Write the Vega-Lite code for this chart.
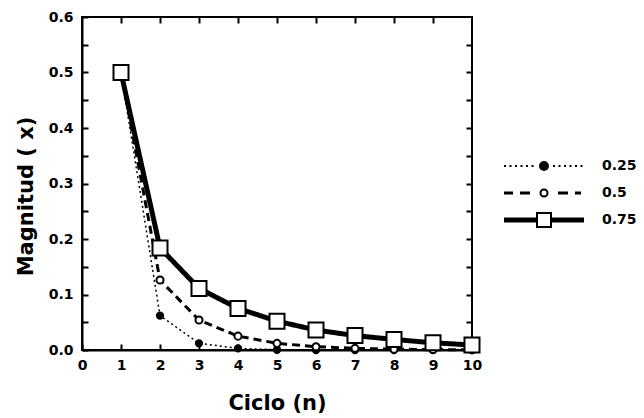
{
  "$schema": "https://vega.github.io/schema/vega-lite/v6.json",
  "autosize": "none",
  "width": 390,
  "height": 333,
  "padding": {"left": 82, "top": 17, "right": 172, "bottom": 68},
  "background": "white",
  "config": {
    "font": "DejaVu Sans",
    "view": {"stroke": "black", "strokeWidth": 2},
    "axis": {
      "grid": false,
      "labelFlush": false,
      "domainColor": "black",
      "domainWidth": 2,
      "tickColor": "black",
      "tickWidth": 2,
      "labelFont": "DejaVu Sans",
      "labelFontWeight": "bold",
      "labelFontSize": 14,
      "labelColor": "black",
      "titleFont": "DejaVu Sans",
      "titleFontWeight": "bold",
      "titleFontSize": 21,
      "titleColor": "black"
    }
  },
  "data": {
    "values": [
      {"n": 1, "x": 0.5, "s": "0.25"},
      {"n": 2, "x": 0.062, "s": "0.25"},
      {"n": 3, "x": 0.012, "s": "0.25"},
      {"n": 4, "x": 0.003, "s": "0.25"},
      {"n": 5, "x": 0.0005, "s": "0.25"},
      {"n": 6, "x": 0.0, "s": "0.25"},
      {"n": 7, "x": 0.0, "s": "0.25"},
      {"n": 8, "x": 0.0, "s": "0.25"},
      {"n": 9, "x": 0.0, "s": "0.25"},
      {"n": 10, "x": 0.0, "s": "0.25"},
      {"n": 1, "x": 0.5, "s": "0.5"},
      {"n": 2, "x": 0.126, "s": "0.5"},
      {"n": 3, "x": 0.054, "s": "0.5"},
      {"n": 4, "x": 0.025, "s": "0.5"},
      {"n": 5, "x": 0.012, "s": "0.5"},
      {"n": 6, "x": 0.006, "s": "0.5"},
      {"n": 7, "x": 0.003, "s": "0.5"},
      {"n": 8, "x": 0.0015, "s": "0.5"},
      {"n": 9, "x": 0.0008, "s": "0.5"},
      {"n": 10, "x": 0.0004, "s": "0.5"},
      {"n": 1, "x": 0.5, "s": "0.75"},
      {"n": 2, "x": 0.184, "s": "0.75"},
      {"n": 3, "x": 0.111, "s": "0.75"},
      {"n": 4, "x": 0.075, "s": "0.75"},
      {"n": 5, "x": 0.052, "s": "0.75"},
      {"n": 6, "x": 0.036, "s": "0.75"},
      {"n": 7, "x": 0.026, "s": "0.75"},
      {"n": 8, "x": 0.019, "s": "0.75"},
      {"n": 9, "x": 0.013, "s": "0.75"},
      {"n": 10, "x": 0.009, "s": "0.75"}
    ]
  },
  "resolve": {
    "scale": {"x": "independent", "y": "independent", "shape": "independent"},
    "axis": {"x": "independent", "y": "independent"}
  },
  "layer": [
    {
      "mark": {"type": "line", "color": "black", "clip": false},
      "encoding": {
        "x": {
          "field": "n", "type": "quantitative",
          "scale": {"domain": [0, 10], "nice": false},
          "axis": {
            "orient": "bottom", "title": "Ciclo (n)",
            "values": [0,1,2,3,4,5,6,7,8,9,10],
            "tickSize": -6, "labelPadding": 14, "titlePadding": 20
          }
        },
        "y": {
          "field": "x", "type": "quantitative",
          "scale": {"domain": [0, 0.6], "nice": false},
          "axis": {
            "orient": "left", "title": "Magnitud ( x)",
            "values": [0,0.05,0.1,0.15,0.2,0.25,0.3,0.35,0.4,0.45,0.5,0.55,0.6],
            "labelExpr": "round(datum.value*100) % 10 == 0 ? format(datum.value, '.1f') : ''",
            "tickSize": -6, "labelPadding": 15, "titlePadding": 12, "titleY": 179
          }
        },
        "detail": {"field": "s"},
        "order": {"field": "n"},
        "strokeDash": {
          "field": "s", "type": "nominal",
          "scale": {"type": "ordinal", "range": [[2, 3], [8, 5], [1, 0]]},
          "legend": null
        },
        "strokeWidth": {
          "field": "s", "type": "nominal",
          "scale": {"type": "ordinal", "range": [1.5, 3, 5]},
          "legend": null
        }
      }
    },
    {
      "mark": {"type": "point", "filled": false, "stroke": "black", "strokeWidth": 2, "opacity": 1, "clip": false},
      "encoding": {
        "x": {
          "field": "n", "type": "quantitative",
          "scale": {"domain": [0, 10], "nice": false},
          "axis": {
            "orient": "top", "title": null, "labels": false, "domain": false,
            "values": [1,2,3,4,5,6,7,8,9], "tickSize": -6
          }
        },
        "y": {
          "field": "x", "type": "quantitative",
          "scale": {"domain": [0, 0.6], "nice": false},
          "axis": {
            "orient": "right", "title": null, "labels": false, "domain": false,
            "values": [0.05,0.1,0.15,0.2,0.25,0.3,0.35,0.4,0.45,0.5,0.55], "tickSize": -6
          }
        },
        "shape": {
          "field": "s", "type": "nominal",
          "scale": {"type": "ordinal", "range": ["circle", "circle", "square"]},
          "legend": null
        },
        "fill": {
          "field": "s", "type": "nominal",
          "scale": {"type": "ordinal", "range": ["black", "white", "white"]},
          "legend": null
        },
        "size": {
          "field": "s", "type": "nominal",
          "scale": {"type": "ordinal", "range": [40, 50, 225]},
          "legend": null
        },
        "order": {"field": "s"}
      }
    },
    {
      "transform": [{"filter": "datum.n > 100"}],
      "mark": {"type": "point", "filled": false, "stroke": "black", "strokeWidth": 2, "opacity": 1},
      "encoding": {
        "shape": {
          "field": "s", "type": "nominal",
          "scale": {
            "type": "ordinal",
            "domain": ["0.25", "0.5", "0.75"],
            "range": [
              "M-4,0h0.2M-3.45,0h0.2M-2.9,0h0.2M-2.35,0h0.2M-1.8,0h0.2M-1.25,0h0.2M0.9,0h0.2M1.45,0h0.2M2,0h0.2M2.55,0h0.2M3.1,0h0.2M3.65,0h0.2M-0.4,0A0.4,0.4,0,1,0,0.4,0A0.4,0.4,0,1,0,-0.4,0M-0.25,0A0.25,0.25,0,1,0,0.25,0A0.25,0.25,0,1,0,-0.25,0M-0.1,0A0.1,0.1,0,1,0,0.1,0A0.1,0.1,0,1,0,-0.1,0",
              "M-4,-0.05H-3.1M-4,0.05H-3.1M-2.4,-0.05H-1.4M-2.4,0.05H-1.4M1.4,-0.05H2.4M1.4,0.05H2.4M3.1,-0.05H3.7M3.1,0.05H3.7M-0.35,0A0.35,0.35,0,1,0,0.35,0A0.35,0.35,0,1,0,-0.35,0Z",
              "M-4,-0.15H-0.7M-4,0H-0.7M-4,0.15H-0.7M0.7,-0.15H4M0.7,0H4M0.7,0.15H4M-0.7,-0.7H0.7V0.7H-0.7Z"
            ]
          },
          "legend": {
            "title": null,
            "orient": "none",
            "legendX": 451,
            "legendY": 138,
            "symbolSize": 400,
            "symbolStrokeWidth": 2,
            "symbolOpacity": 1,
            "symbolStrokeColor": "black",
            "symbolFillColor": "white",
            "rowPadding": 8,
            "labelOffset": 47,
            "labelFont": "DejaVu Sans",
            "labelFontWeight": "bold",
            "labelFontSize": 14,
            "labelColor": "black"
          }
        }
      }
    }
  ]
}
